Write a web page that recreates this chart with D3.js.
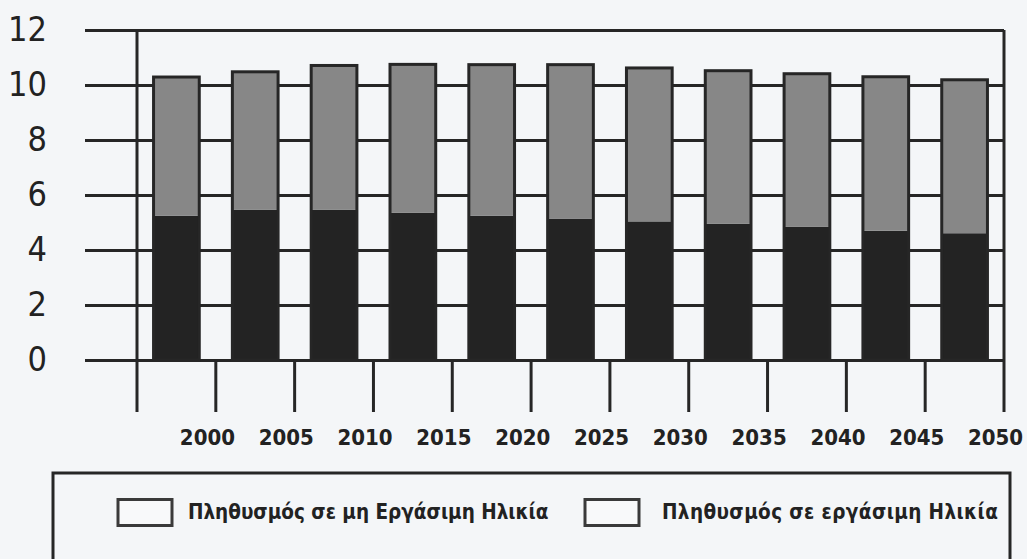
<!DOCTYPE html>
<html>
<head>
<meta charset="utf-8">
<script src="https://cdn.jsdelivr.net/npm/d3@7/dist/d3.min.js"></script>
<style>
  html, body { margin: 0; padding: 0; background: #f4f6f8; }
  svg { display: block; }
  text { font-family: "DejaVu Sans Condensed", "DejaVu Sans", sans-serif; fill: #222; }
</style>
</head>
<body>
<svg id="chart" width="1027" height="559"></svg>
<script>
// Population (millions) by year, split into two age groups
const years = ["2000", "2005", "2010", "2015", "2020", "2025", "2030", "2035", "2040", "2045", "2050"];
const nonWorkingAge = [5.25, 5.47, 5.47, 5.35, 5.25, 5.13, 5.04, 4.96, 4.84, 4.70, 4.61];
const workingAge    = [5.04, 5.01, 5.24, 5.40, 5.49, 5.61, 5.58, 5.56, 5.57, 5.60, 5.58];
const seriesNames = ["Πληθυσμός σε μη Εργάσιμη Ηλικία", "Πληθυσμός σε εργάσιμη Ηλικία"];
const yTicks = [0, 2, 4, 6, 8, 10, 12];

const ink = "#262626";
const colors = ["#232323", "#878787"];

const svg = d3.select("#chart");

const plot = { left: 137, right: 1004, top: 30, bottom: 360, tickBottom: 412, gridLeft: 85 };

const x = d3.scaleBand()
  .domain(years)
  .range([plot.left, plot.right])
  .paddingInner(0.42)
  .paddingOuter(0.21);

const y = d3.scaleLinear().domain([0, 12]).range([plot.bottom, plot.top]);

const rows = years.map((yr, i) => ({ year: yr, a: nonWorkingAge[i], b: workingAge[i] }));
const stacked = d3.stack().keys(["a", "b"])(rows);

// Horizontal gridlines with value labels
const yAxis = d3.axisLeft(y)
  .tickValues(yTicks)
  .tickSize(plot.right - plot.gridLeft)
  .tickPadding(38)
  .tickFormat(d3.format("d"));

const gy = svg.append("g")
  .attr("transform", `translate(${plot.right},0)`)
  .call(yAxis);
gy.select(".domain").remove();
gy.selectAll(".tick line").attr("stroke", ink).attr("stroke-width", 3);
gy.selectAll(".tick text")
  .attr("fill", "#222")
  .style("font-size", "34px")
  .style("font-family", '"DejaVu Sans Condensed", "DejaVu Sans", sans-serif');

// Frame: left axis, right border, and category separators below zero
const step = x.step();
const bounds = d3.range(years.length + 1).map(i => plot.left + i * step);
svg.append("g").selectAll("line")
  .data(bounds)
  .join("line")
  .attr("x1", d => d).attr("x2", d => d)
  .attr("y1", (d, i) => (i === 0 || i === years.length) ? plot.top : plot.bottom)
  .attr("y2", plot.tickBottom)
  .attr("stroke", ink)
  .attr("stroke-width", 3);

// Stacked bars
const layers = svg.append("g").selectAll("g")
  .data(stacked)
  .join("g")
  .attr("fill", (d, i) => colors[i]);

layers.selectAll("rect")
  .data(d => d)
  .join("rect")
  .attr("x", d => x(d.data.year))
  .attr("width", x.bandwidth())
  .attr("y", d => y(d[1]))
  .attr("height", d => y(d[0]) - y(d[1]));

// Bar outlines around each full stack
svg.append("g").selectAll("rect")
  .data(stacked[stacked.length - 1])
  .join("rect")
  .attr("x", d => x(d.data.year))
  .attr("width", x.bandwidth())
  .attr("y", d => y(d[1]))
  .attr("height", d => y(0) - y(d[1]))
  .attr("fill", "none")
  .attr("stroke", ink)
  .attr("stroke-width", 3);

// Year labels, set to the right of each bar
svg.append("g").selectAll("text")
  .data(years)
  .join("text")
  .attr("x", d => x(d) + x.bandwidth() / 2 + 31)
  .attr("y", 437)
  .attr("dy", "0.35em")
  .attr("text-anchor", "middle")
  .style("font-size", "22px")
  .style("font-weight", "bold")
  .text(d => d);

// Legend
const legend = svg.append("g");
legend.append("path")
  .attr("d", "M53,560 V473 H1010 V560")
  .attr("fill", "none")
  .attr("stroke", ink)
  .attr("stroke-width", 3);

const legendX = [118, 585];
const items = legend.selectAll("g.item")
  .data(seriesNames)
  .join("g")
  .attr("class", "item")
  .attr("transform", (d, i) => `translate(${legendX[i]},0)`);

items.append("rect")
  .attr("x", 0).attr("y", 499.5)
  .attr("width", 54).attr("height", 26)
  .attr("fill", "#f8f9fa")
  .attr("stroke", "#3a3a3a")
  .attr("stroke-width", 3);

items.append("text")
  .attr("x", (d, i) => i === 0 ? 70 : 77)
  .attr("y", 512)
  .attr("dy", "0.35em")
  .style("font-size", "20.5px")
  .style("font-weight", "bold")
  .style("letter-spacing", (d, i) => i === 0 ? "0px" : "0.4px")
  .text(d => d);
</script>
</body>
</html>
